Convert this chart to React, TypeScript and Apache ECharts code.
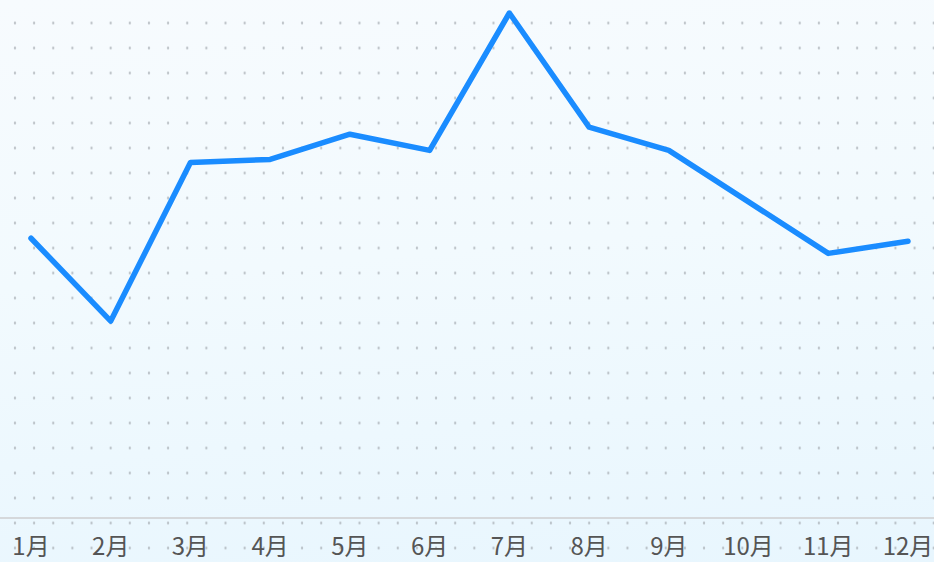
import React, { useEffect, useRef } from "react";
import * as echarts from "echarts";

const months = ["1月", "2月", "3月", "4月", "5月", "6月", "7月", "8月", "9月", "10月", "11月", "12月"];
const values = [277, 195, 352, 355, 380, 364, 500, 387, 364, 313, 262, 274];

export default function App() {
  const ref = useRef<HTMLDivElement>(null);
  useEffect(() => {
    if (!ref.current) return;
    const chart = echarts.init(ref.current, null, { renderer: "svg" });
    chart.setOption({
      animation: false,
      backgroundColor: "transparent",
      grid: { left: 31, right: 26, top: 13, bottom: 44, containLabel: false, outerBoundsMode: "none" },
      graphic: [
        {
          type: "line",
          shape: { x1: 0, y1: 518, x2: 934, y2: 518 },
          style: { stroke: "#d5d8db", lineWidth: 2 },
          z: 1,
        },
      ],
      xAxis: {
        type: "category",
        data: months,
        boundaryGap: false,
        axisLine: { show: false },
        axisTick: { show: false },
        axisLabel: {
          color: "#555555",
          fontSize: 24,
          margin: 14,
          fontFamily: "'Noto Sans CJK SC', 'Noto Sans', sans-serif",
        },
        splitLine: { show: false },
      },
      yAxis: {
        type: "value",
        min: 0,
        max: 500,
        show: false,
        splitLine: { show: false },
      },
      series: [
        {
          type: "line",
          data: values,
          showSymbol: false,
          symbol: "none",
          z: 3,
          lineStyle: { color: "#1a8cff", width: 5.5, cap: "round", join: "round" },
          itemStyle: { color: "#1a8cff" },
        },
      ],
    });
    return () => chart.dispose();
  }, []);
  return (
    <div
      ref={ref}
      style={{
        position: "fixed",
        left: 0,
        top: 0,
        width: 934,
        height: 562,
        backgroundImage:
          "radial-gradient(circle, rgba(165,171,177,0.8) 0.9px, rgba(165,171,177,0) 1.5px), linear-gradient(175deg, #f7fbfe 0%, #f2fafe 45%, #e8f6fe 100%)",
        backgroundSize: "19.15px 25px, 100% 100%",
        backgroundPosition: "5.4px 10.5px, 0 0",
        backgroundRepeat: "repeat, no-repeat",
      }}
    />
  );
}
